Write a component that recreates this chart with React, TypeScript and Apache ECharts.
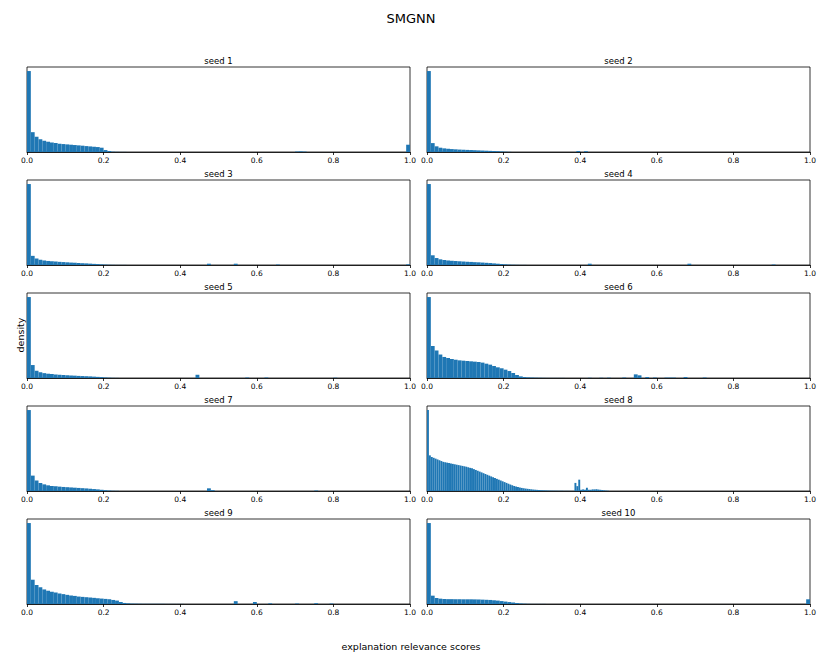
import React, { useEffect, useRef } from "react";
import * as echarts from "echarts";

const mainTitle = "SMGNN";
const xAxisName = "explanation relevance scores";
const yAxisName = "density";
const seedTitles = ["seed 1", "seed 2", "seed 3", "seed 4", "seed 5", "seed 6", "seed 7", "seed 8", "seed 9", "seed 10"];
const tickLabels = ["0.0", "0.2", "0.4", "0.6", "0.8", "1.0"];
const binWidths = [0.01, 0.01, 0.01, 0.01, 0.01, 0.01, 0.01, 0.005, 0.01, 0.01];

// relative densities (max bin = 100), dense part starting at bin 0
const seed1Head = [100, 24.5, 18.8, 15.9, 13.9, 12.7, 11.8, 11.0, 10.2, 9.8, 9.4, 9.0, 8.6, 8.2, 7.8, 7.3, 6.9, 6.5, 6.1, 5.3, 2.4, 1.2, 0.4, 0.2, 0.1, 0.1];
const seed1Tail = [[70, 0.6], [71, 0.8], [72, 0.5], [99, 9]];
const seed2Head = [100, 11, 7, 5.3, 4.5, 4.0, 3.6, 3.3, 3.0, 2.8, 2.6, 2.4, 2.2, 2.0, 1.8, 1.6, 1.4, 1.2, 1.0, 0.7, 0.4, 0.2, 0.1];
const seed2Tail = [[39, 1.2], [41, 1.0]];
const seed3Head = [100, 11.3, 8, 6.5, 5.6, 5.0, 4.6, 4.2, 3.9, 3.6, 3.3, 3.0, 2.8, 2.5, 2.2, 2.0, 1.7, 1.4, 1.1, 0.8, 0.5, 0.3, 0.2, 0.1, 0.1, 0.1];
const seed3Tail = [[47, 1.6], [54, 1.6], [65, 0.6], [99, 0.8]];
const seed4Head = [100, 12, 8.6, 7, 6.2, 5.6, 5.2, 4.9, 4.6, 4.3, 4.0, 3.8, 3.5, 3.3, 3.0, 2.7, 2.4, 2.0, 1.6, 1.2, 0.8, 0.5, 0.3, 0.2, 0.1, 0.1];
const seed4Tail = [[42, 1.6], [68, 1.6], [90, 0.6]];
const seed5Head = [100, 16, 9, 7, 6, 5.3, 4.8, 4.4, 4.0, 3.7, 3.4, 3.1, 2.9, 2.6, 2.4, 2.2, 2.0, 1.7, 1.4, 1.1, 0.7, 0.4, 0.2, 0.1];
const seed5Tail = [[44, 4], [57, 0.6], [62, 0.6], [80, 0.4]];
const seed6Head = [100, 39.5, 34, 29, 26, 24.7, 23.5, 22.6, 21.8, 21.4, 21, 20.6, 20.2, 19.8, 19, 17.7, 16.5, 14.8, 13.2, 12, 10.3, 8.6, 6.2, 3.7, 2, 1.2, 0.8, 0.6, 0.4, 0.3, 0.2, 0.1, 0.1, 0.1, 0.1, 0.1];
const seed6Tail = [[42, 0.3], [45, 0.3], [47, 0.4], [51, 0.6], [54, 4.5], [55, 3.3], [57, 1.2], [59, 0.6], [62, 0.5], [63, 0.5], [64, 0.5], [67, 1.2], [72, 0.6]];
const seed7Head = [100, 19, 13, 9.8, 8.2, 7, 6.3, 5.8, 5.4, 5.0, 4.7, 4.4, 4.1, 3.8, 3.5, 3.2, 2.8, 2.4, 2.0, 1.5, 1.0, 0.6, 0.3, 0.2];
const seed7Tail = [[47, 3.3], [48, 1.0], [75, 0.6]];
const seed8Head = [100, 44, 42, 41, 40, 39, 38, 37, 36, 35.5, 35, 34.5, 34, 33.5, 33, 32.5, 32, 31.5, 31, 30.5,
  30, 29.3, 28.6, 28, 27, 26, 25, 24, 23, 22, 21, 20, 19, 18, 17, 16, 15, 14, 13, 12,
  11, 10, 9, 8, 7, 6.2, 5.5, 4.9, 4.3, 3.8, 3.4, 3.0, 2.7, 2.4, 2.1, 1.8, 1.6, 1.4, 1.2, 1.0,
  0.9, 0.8, 0.7, 0.6, 0.5, 0.45, 0.4, 0.35, 0.3, 0.3, 0.25, 0.2, 0.2, 0.2, 0.15, 0.15, 0.15, 10, 6, 14,
  1.5, 2, 1.5, 4, 1.5, 1.5, 2, 2, 2.2, 1.8, 1.5, 1.2, 0.8, 0.5, 0.3];
const seed8Tail: number[][] = [];
const seed9Head = [100, 30, 23.5, 20.6, 18, 16.4, 15.1, 14.3, 13, 12.2, 11.3, 10.5, 10, 9.2, 8.8, 8.4, 8, 7.6, 7.1, 6.7, 6.3, 5.9, 5, 4.2, 2.5, 1.3, 0.8, 0.5, 0.4, 0.3, 0.2, 0.2, 0.2, 0.2, 0.2, 0.2, 0.1, 0.1, 0.1, 0.1, 0.1];
const seed9Tail = [[54, 3.5], [59, 2.5], [63, 0.8], [70, 0.6], [75, 1], [79, 0.6]];
const seed10Head = [100, 10.3, 7.4, 6.6, 6.2, 6.0, 6.0, 5.9, 5.9, 5.8, 5.8, 5.8, 5.7, 5.6, 5.4, 5.2, 5.0, 4.6, 4.2, 3.6, 3.0, 2.4, 1.8, 1.2, 0.7, 0.4, 0.2, 0.1, 0.1, 0.1, 0.1];
const seed10Tail = [[99, 5.8]];

const heads = [seed1Head, seed2Head, seed3Head, seed4Head, seed5Head, seed6Head, seed7Head, seed8Head, seed9Head, seed10Head];
const tails = [seed1Tail, seed2Tail, seed3Tail, seed4Tail, seed5Tail, seed6Tail, seed7Tail, seed8Tail, seed9Tail, seed10Tail];

const FONT = "DejaVu Sans";
const COL_LEFT = [27, 427];
const ROW_TOP = [67, 180, 293, 406, 519];
const GRID_W = 383;
const GRID_H = 85;

export default function App() {
  const ref = useRef<HTMLDivElement>(null);
  useEffect(() => {
    if (!ref.current) return;
    const chart = echarts.init(ref.current, null, { renderer: "svg" });
    const grids: any[] = [];
    const xAxes: any[] = [];
    const yAxes: any[] = [];
    const series: any[] = [];
    const graphics: any[] = [];
    for (let k = 0; k < 10; k++) {
      const col = k % 2;
      const row = Math.floor(k / 2);
      const left = COL_LEFT[col];
      const top = ROW_TOP[row];
      const w = binWidths[k];
      const data: number[][] = [];
      heads[k].forEach((h, i) => data.push([i * w, (i + 1) * w, h]));
      tails[k].forEach(([i, h]) => data.push([i * w, (i + 1) * w, h]));
      const maxH = Math.max(...data.map((d) => d[2]));
      grids.push({ left, top, width: GRID_W, height: GRID_H, show: true, borderColor: "#000", borderWidth: 0.8, backgroundColor: "transparent" });
      xAxes.push({
        type: "value", gridIndex: k, min: 0, max: 1, interval: 0.2,
        axisLine: { show: true, onZero: false, lineStyle: { color: "#000", width: 0.8 } },
        axisTick: { show: true, length: 3, lineStyle: { color: "#000", width: 0.8 } },
        axisLabel: { fontSize: 7.5, color: "#000", fontFamily: FONT, margin: 4, formatter: (v: number) => tickLabels[Math.round(v / 0.2)] },
        splitLine: { show: false },
      });
      yAxes.push({
        type: "value", gridIndex: k, min: 0, max: maxH * 1.05,
        axisLine: { show: false }, axisTick: { show: false }, axisLabel: { show: false }, splitLine: { show: false },
      });
      series.push({
        type: "custom", xAxisIndex: k, yAxisIndex: k, clip: true,
        encode: { x: [0, 1], y: 2 },
        data,
        renderItem: (params: any, api: any) => {
          const p0 = api.coord([api.value(0), api.value(2)]);
          const p1 = api.coord([api.value(1), 0]);
          return {
            type: "rect",
            shape: { x: p0[0], y: p0[1], width: p1[0] - p0[0], height: p1[1] - p0[1] },
            style: { fill: "#1f77b4" },
          };
        },
      });
      graphics.push({
        type: "text", x: left + GRID_W / 2, y: top - 6,
        style: { text: seedTitles[k], fontSize: 8.5, fontFamily: FONT, fill: "#000", align: "center", verticalAlign: "middle" },
      });
    }
    graphics.push({
      type: "text", x: 411, y: 18,
      style: { text: mainTitle, fontSize: 13, fontFamily: FONT, fill: "#000", align: "center", verticalAlign: "middle" },
    });
    graphics.push({
      type: "text", x: 411, y: 646,
      style: { text: xAxisName, fontSize: 9.5, fontFamily: FONT, fill: "#000", align: "center", verticalAlign: "middle" },
    });
    graphics.push({
      type: "text", x: 20, y: 335, rotation: Math.PI / 2,
      style: { text: yAxisName, fontSize: 9.5, fontFamily: FONT, fill: "#000", align: "center", verticalAlign: "middle" },
    });
    chart.setOption({
      animation: false,
      backgroundColor: "#fff",
      grid: grids,
      xAxis: xAxes,
      yAxis: yAxes,
      series,
      graphic: graphics,
    });
    return () => chart.dispose();
  }, []);
  return <div ref={ref} style={{ position: "fixed", left: 0, top: 0, width: 822, height: 658 }} />;
}
